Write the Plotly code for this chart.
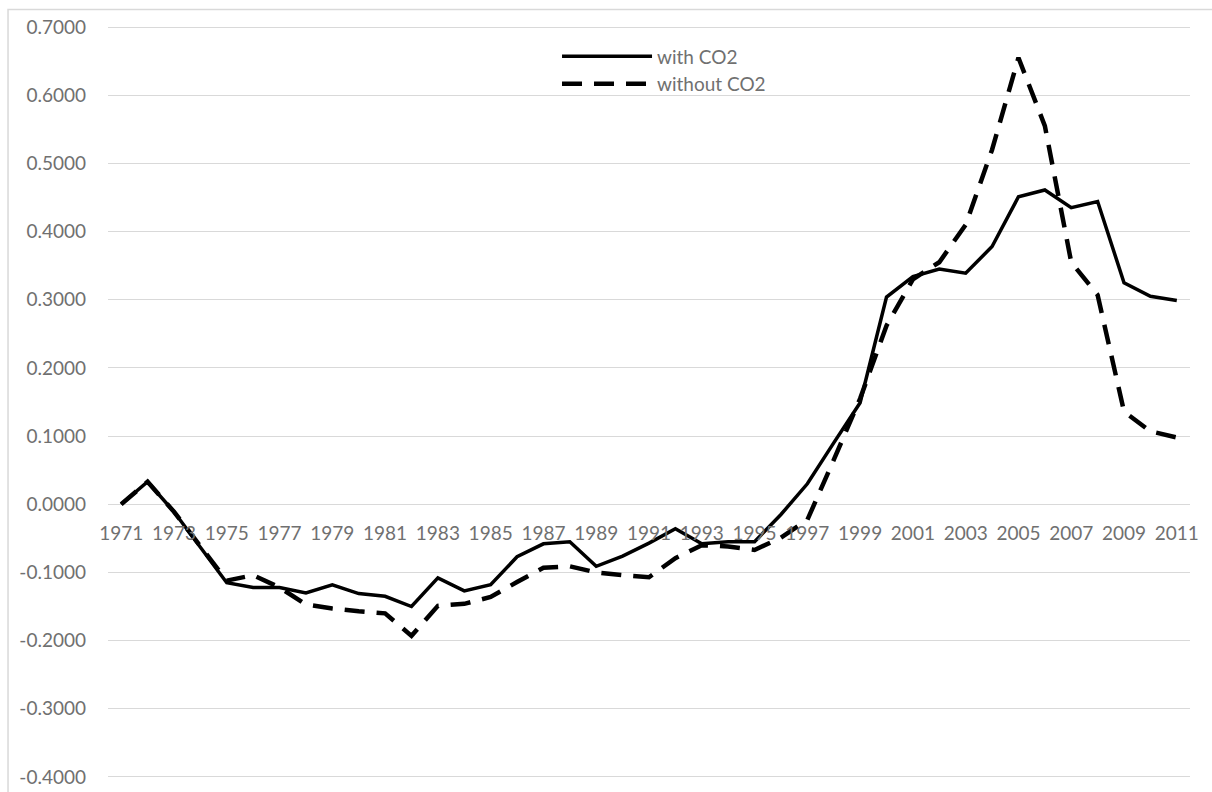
import plotly.graph_objects as go

years = list(range(1971, 2012))

with_co2 = [0.000, 0.033, -0.011, -0.062, -0.115, -0.122, -0.122, -0.130, -0.118, -0.131,
            -0.135, -0.150, -0.108, -0.127, -0.118, -0.077, -0.058, -0.055, -0.091, -0.076,
            -0.057, -0.036, -0.058, -0.055, -0.055, -0.015, 0.030, 0.090, 0.149, 0.304,
            0.334, 0.345, 0.339, 0.378, 0.451, 0.461, 0.435, 0.444, 0.325, 0.305, 0.299]

without_co2 = [0.000, 0.033, -0.011, -0.062, -0.112, -0.104, -0.122, -0.147, -0.153, -0.157,
               -0.160, -0.193, -0.149, -0.146, -0.136, -0.114, -0.093, -0.091, -0.100, -0.104,
               -0.107, -0.079, -0.060, -0.062, -0.067, -0.049, -0.023, 0.065, 0.155, 0.262,
               0.330, 0.355, 0.410, 0.520, 0.655, 0.555, 0.355, 0.307, 0.136, 0.107, 0.098]

y_ticks = [-0.4, -0.3, -0.2, -0.1, 0.0, 0.1, 0.2, 0.3, 0.4, 0.5, 0.6, 0.7]
y_tick_labels = ["-0.4000", "-0.3000", "-0.2000", "-0.1000", "0.0000", "0.1000",
                 "0.2000", "0.3000", "0.4000", "0.5000", "0.6000", "0.7000"]

FONT = "Lato"
GRAY = "#707070"
GRID = "#d9d9d9"
FS = 19

fig = go.Figure()
fig.add_trace(go.Scatter(x=years, y=with_co2, mode="lines", name="with CO2",
                         line=dict(color="black", width=3.5)))
fig.add_trace(go.Scatter(x=years, y=without_co2, mode="lines", name="without CO2",
                         line=dict(color="black", width=4.5, dash="20px,12px")))

y_lo, y_hi = -0.4015, 0.7015

fig.update_layout(
    width=1212, height=792,
    margin=dict(l=108, r=22, t=26, b=14),
    paper_bgcolor="white", plot_bgcolor="white",
    font=dict(family=FONT, size=FS, color=GRAY),
    showlegend=True,
    legend=dict(x=0.415, y=0.985, xanchor="left", yanchor="top",
                bgcolor="rgba(0,0,0,0)", font=dict(family=FONT, size=FS, color=GRAY),
                tracegroupgap=0, itemwidth=90),
    xaxis=dict(range=[1970.5, 2011.5], tickmode="linear", tick0=1971, dtick=2,
               showgrid=False, zeroline=False, showline=False, ticks="",
               anchor="free", position=(0 - y_lo) / (y_hi - y_lo), ticklabelstandoff=16,
               automargin=False,
               tickfont=dict(family=FONT, size=FS, color=GRAY)),
    yaxis=dict(range=[y_lo, y_hi], tickmode="array", tickvals=y_ticks, ticktext=y_tick_labels,
               showgrid=True, gridcolor=GRID, gridwidth=1, zeroline=True, zerolinecolor=GRID,
               zerolinewidth=1, showline=False, ticks="", ticklabelstandoff=21,
               ticklabeloverflow="allow", automargin=False,
               tickfont=dict(family=FONT, size=FS, color=GRAY)),
)

fig.add_shape(type="rect", xref="paper", yref="paper",
              x0=-0.0924, x1=1.05, y0=-0.05, y1=1.022,
              line=dict(color=GRID, width=1.5), fillcolor="rgba(0,0,0,0)", layer="below")

fig.write_html("out.html", config={"displayModeBar": False},
               post_script="document.body.style.margin='0';document.body.style.overflow='hidden';")
